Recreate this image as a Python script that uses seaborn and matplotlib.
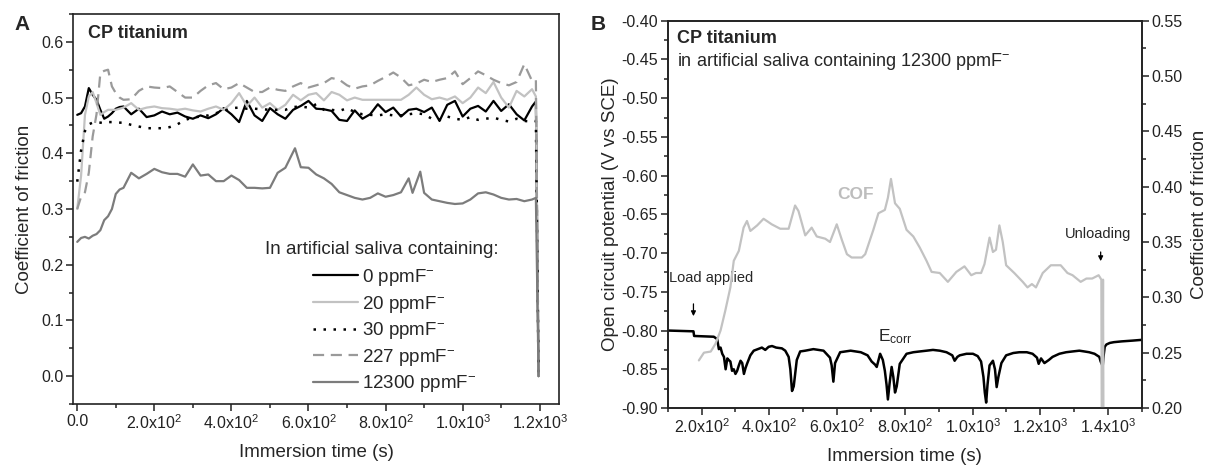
import numpy as np
import pandas as pd
import matplotlib
matplotlib.use("Agg")
import matplotlib.pyplot as plt
import seaborn as sns
from matplotlib.ticker import MultipleLocator, FuncFormatter
from matplotlib.lines import Line2D

# ---------------- data: panel A ----------------
t_a = [0, 10, 20, 30, 40, 50, 60, 70, 80, 90, 100, 110, 120,
       140, 160, 180, 200, 220, 240, 260, 280, 300, 320,
       340, 360, 380, 400, 420, 440, 460, 480, 500, 520,
       540, 560, 580, 600, 620, 640, 660, 680, 700, 720,
       740, 760, 780, 800, 820, 840, 860, 880, 900, 920,
       940, 960, 980, 1000, 1020, 1040, 1060, 1080, 1100, 1120,
       1140, 1160, 1180, 1190, 1197]

cof_0 = [0.469, 0.472, 0.484, 0.517, 0.505, 0.496, 0.478, 0.462, 0.466, 0.472, 0.480, 0.483, 0.484,
         0.470, 0.480, 0.465, 0.468, 0.475, 0.470, 0.473, 0.466, 0.462, 0.468,
         0.463, 0.470, 0.481, 0.470, 0.456, 0.494, 0.468, 0.458, 0.481, 0.470,
         0.462, 0.478, 0.485, 0.494, 0.480, 0.479, 0.476, 0.460, 0.458, 0.477,
         0.462, 0.470, 0.488, 0.474, 0.482, 0.466, 0.478, 0.480, 0.474, 0.482,
         0.458, 0.487, 0.494, 0.466, 0.480, 0.485, 0.475, 0.494, 0.476, 0.488,
         0.470, 0.459, 0.484, 0.493, 0.0]

cof_20 = [0.300, 0.360, 0.469, 0.502, 0.510, 0.490, 0.469, 0.474, 0.478, 0.478, 0.478, 0.480, 0.482,
          0.490, 0.478, 0.482, 0.484, 0.481, 0.480, 0.478, 0.480, 0.477, 0.475,
          0.480, 0.484, 0.478, 0.490, 0.508, 0.485, 0.500, 0.482, 0.490, 0.478,
          0.487, 0.505, 0.495, 0.505, 0.508, 0.495, 0.510, 0.505, 0.495, 0.500,
          0.496, 0.496, 0.496, 0.496, 0.496, 0.496, 0.505, 0.518, 0.505, 0.497,
          0.500, 0.496, 0.502, 0.490, 0.500, 0.518, 0.508, 0.528, 0.500, 0.482,
          0.512, 0.502, 0.515, 0.502, 0.0]

cof_30 = [0.349, 0.405, 0.440, 0.452, 0.455, 0.456, 0.455, 0.454, 0.456, 0.456, 0.455, 0.455, 0.455,
          0.451, 0.448, 0.445, 0.445, 0.445, 0.447, 0.452, 0.460, 0.464, 0.466,
          0.468, 0.472, 0.476, 0.481, 0.482, 0.480, 0.480, 0.479, 0.478, 0.478,
          0.478, 0.483, 0.484, 0.482, 0.488, 0.478, 0.478, 0.476, 0.481, 0.474,
          0.470, 0.469, 0.468, 0.470, 0.468, 0.468, 0.470, 0.472, 0.470, 0.462,
          0.460, 0.466, 0.462, 0.460, 0.465, 0.460, 0.462, 0.464, 0.460, 0.457,
          0.462, 0.458, 0.457, 0.458, 0.0]

cof_227 = [0.300, 0.322, 0.330, 0.365, 0.430, 0.470, 0.544, 0.548, 0.550, 0.520, 0.508, 0.500, 0.496,
           0.497, 0.512, 0.520, 0.518, 0.517, 0.520, 0.510, 0.500, 0.500, 0.512,
           0.522, 0.526, 0.515, 0.518, 0.526, 0.518, 0.510, 0.510, 0.518, 0.514,
           0.512, 0.520, 0.526, 0.518, 0.522, 0.526, 0.535, 0.532, 0.522, 0.516,
           0.520, 0.522, 0.530, 0.537, 0.545, 0.536, 0.522, 0.525, 0.532, 0.528,
           0.532, 0.535, 0.547, 0.524, 0.535, 0.547, 0.540, 0.532, 0.526, 0.522,
           0.528, 0.560, 0.530, 0.532, 0.0]

t_12300 = [0, 10, 20, 30, 40, 50, 60, 70, 80, 90, 100, 110, 120,
           140, 160, 180, 200, 220, 240, 260, 280, 300, 320,
           340, 360, 380, 400, 420, 440, 460, 480, 500, 520,
           540, 565, 580, 600, 620, 640, 660, 680, 700, 720,
           740, 760, 780, 800, 820, 840, 860, 870, 890, 900, 920,
           940, 960, 980, 1000, 1020, 1040, 1060, 1080, 1100, 1120,
           1140, 1160, 1180, 1190, 1197]
cof_12300 = [0.241, 0.248, 0.250, 0.247, 0.252, 0.255, 0.262, 0.280, 0.287, 0.300, 0.327, 0.335, 0.338,
             0.365, 0.355, 0.363, 0.372, 0.366, 0.363, 0.363, 0.358, 0.380, 0.360,
             0.362, 0.350, 0.350, 0.360, 0.352, 0.338, 0.338, 0.337, 0.338, 0.365,
             0.374, 0.409, 0.375, 0.374, 0.362, 0.355, 0.345, 0.330, 0.325, 0.320,
             0.317, 0.320, 0.328, 0.322, 0.325, 0.330, 0.355, 0.329, 0.367, 0.329, 0.317,
             0.314, 0.311, 0.309, 0.310, 0.317, 0.328, 0.330, 0.326, 0.320, 0.317,
             0.318, 0.314, 0.317, 0.320, 0.0]

series_labels = ["0 ppmF$^{-}$", "20 ppmF$^{-}$", "30 ppmF$^{-}$", "227 ppmF$^{-}$", "12300 ppmF$^{-}$"]

# ---------------- data: panel B ----------------
t_ocp = [100, 176, 178, 236, 246, 251, 256, 261, 266, 271, 276, 280, 285, 290, 295, 300, 305, 310,
         315, 320, 325, 330, 335, 344, 354, 366, 378, 388, 398, 408, 420, 437, 447, 457, 462, 467,
         472, 481, 491, 506, 530, 560, 579, 584, 589, 594, 609, 640, 670, 690, 702, 712, 717, 727,
         735, 741, 746, 750, 755, 761, 766, 771, 776, 785, 805, 825, 844, 864, 883, 903, 923, 940,
         947, 955, 962, 982, 1001, 1015, 1025, 1032, 1036, 1040, 1044, 1050, 1060, 1066, 1071, 1076,
         1085, 1099, 1120, 1138, 1160, 1177, 1190, 1195, 1202, 1212, 1225, 1236, 1256, 1276, 1295,
         1315, 1330, 1344, 1360, 1374, 1378, 1384, 1386, 1390, 1395, 1405, 1417, 1440, 1472, 1500]
ocp = [-0.800, -0.801, -0.807, -0.808, -0.811, -0.824, -0.822, -0.830, -0.834, -0.850, -0.836, -0.838,
       -0.840, -0.852, -0.850, -0.856, -0.852, -0.845, -0.839, -0.842, -0.856, -0.848, -0.842, -0.832,
       -0.826, -0.824, -0.822, -0.825, -0.821, -0.820, -0.822, -0.823, -0.826, -0.834, -0.850, -0.878,
       -0.872, -0.838, -0.827, -0.826, -0.824, -0.826, -0.835, -0.845, -0.866, -0.842, -0.828, -0.826,
       -0.828, -0.832, -0.840, -0.844, -0.847, -0.830, -0.838, -0.852, -0.870, -0.889, -0.868, -0.847,
       -0.860, -0.880, -0.872, -0.843, -0.830, -0.828, -0.827, -0.826, -0.825, -0.826, -0.828, -0.832,
       -0.839, -0.834, -0.832, -0.830, -0.830, -0.833, -0.840, -0.860, -0.880, -0.893, -0.870, -0.845,
       -0.839, -0.850, -0.873, -0.860, -0.842, -0.832, -0.829, -0.828, -0.828, -0.830, -0.835, -0.843,
       -0.836, -0.842, -0.838, -0.834, -0.830, -0.828, -0.827, -0.826, -0.827, -0.828, -0.830, -0.834,
       -0.840, -0.846, -0.835, -0.821, -0.818, -0.816, -0.815, -0.814, -0.813, -0.812]

t_cof = [192, 207, 227, 241, 256, 270, 285, 295, 310, 324, 334, 344, 364, 383, 407, 432, 457, 476,
         486, 506, 525, 540, 565, 579, 599, 614, 629, 643, 673, 683, 707, 722, 741, 750, 759, 771,
         785, 805, 825, 844, 864, 879, 903, 927, 952, 976, 996, 1010, 1025, 1035, 1050, 1060, 1069,
         1079, 1089, 1099, 1123, 1148, 1162, 1175, 1187, 1207, 1231, 1260, 1280, 1295, 1319, 1336,
         1353, 1372, 1380, 1382, 1385, 1387]
cof_b = [0.243, 0.250, 0.251, 0.258, 0.270, 0.288, 0.309, 0.333, 0.342, 0.363, 0.369, 0.360, 0.365,
         0.371, 0.366, 0.362, 0.362, 0.383, 0.378, 0.356, 0.363, 0.355, 0.353, 0.350, 0.366, 0.352,
         0.339, 0.336, 0.336, 0.339, 0.361, 0.376, 0.379, 0.390, 0.407, 0.385, 0.380, 0.361, 0.355,
         0.345, 0.333, 0.323, 0.322, 0.314, 0.323, 0.328, 0.320, 0.322, 0.322, 0.330, 0.354, 0.341,
         0.343, 0.365, 0.350, 0.329, 0.322, 0.314, 0.309, 0.312, 0.309, 0.322, 0.329, 0.329, 0.322,
         0.320, 0.314, 0.317, 0.317, 0.320, 0.316, 0.10, 0.316, 0.10]

# ---------------- style ----------------
sns.set_theme(style="ticks")
plt.rcParams.update({
    "font.family": ["Liberation Sans", "DejaVu Sans"],
    "mathtext.fontset": "custom",
    "mathtext.rm": "Liberation Sans",
    "mathtext.it": "Liberation Sans:italic",
    "mathtext.bf": "Liberation Sans:bold",
    "axes.edgecolor": "#222222",
    "axes.linewidth": 1.2,
    "xtick.direction": "out",
    "ytick.direction": "out",
    "xtick.major.size": 5, "ytick.major.size": 5,
    "xtick.minor.size": 3, "ytick.minor.size": 3,
    "xtick.major.width": 1.1, "ytick.major.width": 1.1,
    "xtick.minor.width": 1.1, "ytick.minor.width": 1.1,
    "xtick.color": "#222222", "ytick.color": "#222222",
    "xtick.labelsize": 11.5, "ytick.labelsize": 11.5,
    "axes.labelsize": 13.5,
})


def sci_fmt(v, pos):
    if abs(v) < 1e-9:
        return "0.0"
    e = int(np.floor(np.log10(abs(v))))
    m = v / 10 ** e
    return f"{m:.1f}x10$^{{{e}}}$"


fig = plt.figure(figsize=(12.06, 4.69), dpi=100)
axA = fig.add_axes([0.06053, 0.13859, 0.40299, 0.83156])
axB = fig.add_axes([0.55365, 0.13006, 0.39328, 0.82580])

# ---------------- panel A ----------------
styles = [
    dict(color="#000000", lw=1.6, ls="-"),
    dict(color="#c2c2c2", lw=1.6, ls="-"),
    dict(color="#000000", lw=1.8, ls=(0, (1, 3))),
    dict(color="#9a9a9a", lw=1.6, ls=(0, (5, 3))),
    dict(color="#7c7c7c", lw=1.6, ls="-"),
]
xs = [t_a, t_a, t_a, t_a, t_12300]
ys = [cof_0, cof_20, cof_30, cof_227, cof_12300]
handles = []
for x, y, st, lab in zip(xs, ys, styles, series_labels):
    df = pd.DataFrame({"t": x, "cof": y})
    sns.lineplot(data=df, x="t", y="cof", ax=axA, sort=False, estimator=None,
                 color=st["color"], linewidth=st["lw"], linestyle=st["ls"], legend=False)
    handles.append(Line2D([], [], color=st["color"], lw=st["lw"], ls=st["ls"]))

axA.set_xlim(-11, 1250)
axA.set_ylim(-0.05, 0.65)
axA.xaxis.set_major_locator(MultipleLocator(200))
axA.xaxis.set_minor_locator(MultipleLocator(100))
axA.yaxis.set_major_locator(MultipleLocator(0.1))
axA.yaxis.set_minor_locator(MultipleLocator(0.05))
axA.xaxis.set_major_formatter(FuncFormatter(sci_fmt))
axA.yaxis.set_major_formatter(FuncFormatter(lambda v, p: f"{v:.1f}"))
axA.tick_params(which="both", top=False, right=False, pad=2)
axA.set_xlabel("Immersion time (s)", labelpad=8)
axA.set_ylabel("Coefficient of friction", labelpad=6)
for s in axA.spines.values():
    s.set_visible(True)

axA.text(0.03, 0.95, "CP titanium", transform=axA.transAxes, fontsize=13,
         fontweight="bold", va="center", ha="left")
fig.text(0.012, 0.947, "A", fontsize=15, fontweight="bold", va="center", ha="left")
axA.text(0.395, 0.395, "In artificial saliva containing:", transform=axA.transAxes,
         fontsize=13.5, va="center", ha="left")
axA.legend(handles, series_labels, loc="center left", bbox_to_anchor=(0.494, 0.188),
           frameon=False, fontsize=13.5, handlelength=2.4, handletextpad=0.2,
           labelspacing=0.3, borderpad=0, borderaxespad=0)

# ---------------- panel B ----------------
df_ocp = pd.DataFrame({"t": t_ocp, "E": ocp})
sns.lineplot(data=df_ocp, x="t", y="E", ax=axB, sort=False, estimator=None,
             color="black", linewidth=1.8, legend=False)
axB.set_xlim(100, 1500)
axB.set_ylim(-0.90, -0.40)
axB.xaxis.set_major_locator(MultipleLocator(200))
axB.xaxis.set_minor_locator(MultipleLocator(100))
axB.yaxis.set_major_locator(MultipleLocator(0.05))
axB.yaxis.set_minor_locator(MultipleLocator(0.025))
axB.xaxis.set_major_formatter(FuncFormatter(sci_fmt))
axB.yaxis.set_major_formatter(FuncFormatter(lambda v, p: f"{v:.2f}"))
axB.tick_params(which="both", top=False, right=False, pad=2)
axB.set_xlabel("Immersion time (s)", labelpad=8)
axB.set_ylabel("Open circuit potential (V vs SCE)", labelpad=2)

axB2 = axB.twinx()
df_cof = pd.DataFrame({"t": t_cof, "c": cof_b})
sns.lineplot(data=df_cof, x="t", y="c", ax=axB2, sort=False, estimator=None,
             color="#c2c2c2", linewidth=1.6, legend=False)
axB2.set_ylim(0.20, 0.55)
axB2.set_xlim(100, 1500)
axB2.yaxis.set_major_locator(MultipleLocator(0.05))
axB2.yaxis.set_minor_locator(MultipleLocator(0.025))
axB2.yaxis.set_major_formatter(FuncFormatter(lambda v, p: f"{v:.2f}"))
axB2.tick_params(which="both", right=True, direction="out", pad=2)
axB2.set_ylabel("Coefficient of friction", labelpad=6)
for s in list(axB.spines.values()) + list(axB2.spines.values()):
    s.set_visible(True)

axB.text(0.02, 0.955, "CP titanium", transform=axB.transAxes, fontsize=13,
         fontweight="bold", va="center", ha="left")
axB.text(0.02, 0.895, "in artificial saliva containing 12300 ppmF$^{-}$", transform=axB.transAxes,
         fontsize=13, va="center", ha="left")
fig.text(0.490, 0.947, "B", fontsize=15, fontweight="bold", va="center", ha="left")
axB.text(599, -0.625, "COF", fontsize=12.5, fontweight="bold", color="#bdbdbd",
         va="center", ha="left")
axB.text(103, -0.732, "Load applied", fontsize=10.5, va="center", ha="left")
axB.annotate("", xy=(176, -0.785), xytext=(176, -0.762),
             arrowprops=dict(arrowstyle="-|>", color="black", lw=0.9, mutation_scale=7))
axB.text(720, -0.808, "E$_{\\mathrm{corr}}$", fontsize=12.5, va="center", ha="left")
axB.text(1467, -0.676, "Unloading", fontsize=10.5, va="center", ha="right")
axB.annotate("", xy=(1378, -0.714), xytext=(1378, -0.695),
             arrowprops=dict(arrowstyle="-|>", color="black", lw=0.9, mutation_scale=7))

fig.savefig("out.png", dpi=100, facecolor="white")
